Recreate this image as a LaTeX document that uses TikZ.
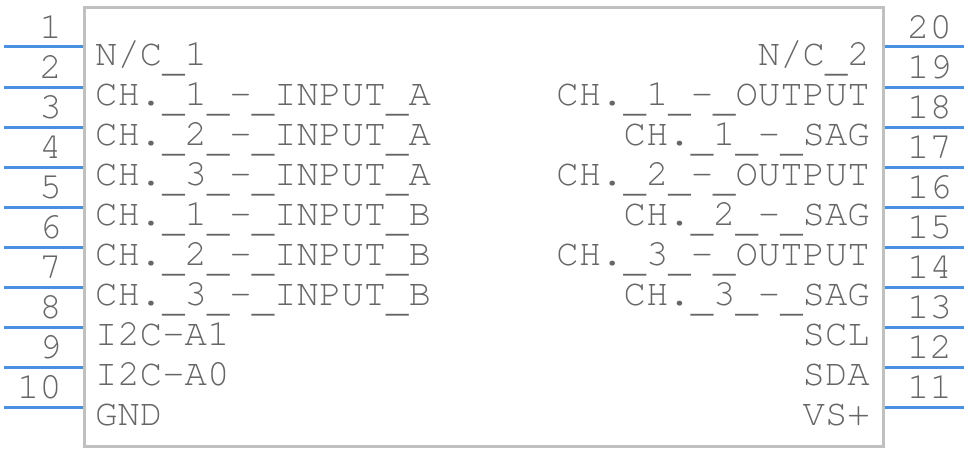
\documentclass[tikz,border=0pt]{standalone}
\usepackage{fontspec}
\newfontfamily\pinfont{texgyrecursor-regular.otf}
\usepackage{tikz}
\usetikzlibrary{calc}
\definecolor{pinblue}{RGB}{74,144,226}
\definecolor{boxgray}{RGB}{192,192,192}
\definecolor{txtgray}{RGB}{102,102,102}
\newcommand{\pinus}{\smash{\raisebox{-6pt}{\_}}}
\tikzstyle{pin} = [draw=pinblue, line width=3pt]
\tikzstyle{chip} = [draw=boxgray, line width=3pt, rectangle, minimum width=799pt, minimum height=438pt, inner sep=0pt]
\tikzstyle{txt} = [text=txtgray, font=\pinfont\fontsize{37.3}{37.3}\selectfont, inner sep=0pt]
\tikzstyle{lbll} = [txt, anchor=base west]
\tikzstyle{lblr} = [txt, anchor=base east]
\tikzstyle{numl} = [txt, anchor=base east]
\tikzstyle{numr} = [txt, anchor=base west]

\begin{document}
\begin{tikzpicture}[x=1pt, y=-1pt]
        \useasboundingbox (0,0) rectangle (968,452);
        \node[chip] (chip) at (483.5,227) {};
        % left side pins
        \coordinate (p1) at (4,47);
        \coordinate (p2) at (4,87);
        \coordinate (p3) at (4,127);
        \coordinate (p4) at (4,167);
        \coordinate (p5) at (4,207);
        \coordinate (p6) at (4,247);
        \coordinate (p7) at (4,287);
        \coordinate (p8) at (4,327);
        \coordinate (p9) at (4,367);
        \coordinate (p10) at (4,407);
        % right side pins
        \coordinate (p20) at (964,47);
        \coordinate (p19) at (964,87);
        \coordinate (p18) at (964,127);
        \coordinate (p17) at (964,167);
        \coordinate (p16) at (964,207);
        \coordinate (p15) at (964,247);
        \coordinate (p14) at (964,287);
        \coordinate (p13) at (964,327);
        \coordinate (p12) at (964,367);
        \coordinate (p11) at (964,407);
        \path[pin] (p1) -- (p1 -| chip.west);
        \path[pin] (p2) -- (p2 -| chip.west);
        \path[pin] (p3) -- (p3 -| chip.west);
        \path[pin] (p4) -- (p4 -| chip.west);
        \path[pin] (p5) -- (p5 -| chip.west);
        \path[pin] (p6) -- (p6 -| chip.west);
        \path[pin] (p7) -- (p7 -| chip.west);
        \path[pin] (p8) -- (p8 -| chip.west);
        \path[pin] (p9) -- (p9 -| chip.west);
        \path[pin] (p10) -- (p10 -| chip.west);
        \path[pin] (p20) -- (p20 -| chip.east);
        \path[pin] (p19) -- (p19 -| chip.east);
        \path[pin] (p18) -- (p18 -| chip.east);
        \path[pin] (p17) -- (p17 -| chip.east);
        \path[pin] (p16) -- (p16 -| chip.east);
        \path[pin] (p15) -- (p15 -| chip.east);
        \path[pin] (p14) -- (p14 -| chip.east);
        \path[pin] (p13) -- (p13 -| chip.east);
        \path[pin] (p12) -- (p12 -| chip.east);
        \path[pin] (p11) -- (p11 -| chip.east);
        % pin numbers
        \node[numl] (n1) at ($(p1)+(58,-9)$) {1};
        \node[numl] (n2) at ($(p2)+(58,-9)$) {2};
        \node[numl] (n3) at ($(p3)+(58,-9)$) {3};
        \node[numl] (n4) at ($(p4)+(58,-9)$) {4};
        \node[numl] (n5) at ($(p5)+(58,-9)$) {5};
        \node[numl] (n6) at ($(p6)+(58,-9)$) {6};
        \node[numl] (n7) at ($(p7)+(58,-9)$) {7};
        \node[numl] (n8) at ($(p8)+(58,-9)$) {8};
        \node[numl] (n9) at ($(p9)+(58,-9)$) {9};
        \node[numl] (n10) at ($(p10)+(58,-9)$) {10};
        \node[numr] (n20) at ($(p20)+(-57,-9)$) {20};
        \node[numr] (n19) at ($(p19)+(-57,-9)$) {19};
        \node[numr] (n18) at ($(p18)+(-57,-9)$) {18};
        \node[numr] (n17) at ($(p17)+(-57,-9)$) {17};
        \node[numr] (n16) at ($(p16)+(-57,-9)$) {16};
        \node[numr] (n15) at ($(p15)+(-57,-9)$) {15};
        \node[numr] (n14) at ($(p14)+(-57,-9)$) {14};
        \node[numr] (n13) at ($(p13)+(-57,-9)$) {13};
        \node[numr] (n12) at ($(p12)+(-57,-9)$) {12};
        \node[numr] (n11) at ($(p11)+(-57,-9)$) {11};
        % pin names
        \node[lbll] (nc1) at ($(p1)+(91,18)$) {N/C\pinus 1};
        \node[lbll] (in1a) at ($(p2)+(91,18)$) {CH.\pinus 1\pinus -\pinus INPUT\pinus A};
        \node[lbll] (in2a) at ($(p3)+(91,18)$) {CH.\pinus 2\pinus -\pinus INPUT\pinus A};
        \node[lbll] (in3a) at ($(p4)+(91,18)$) {CH.\pinus 3\pinus -\pinus INPUT\pinus A};
        \node[lbll] (in1b) at ($(p5)+(91,18)$) {CH.\pinus 1\pinus -\pinus INPUT\pinus B};
        \node[lbll] (in2b) at ($(p6)+(91,18)$) {CH.\pinus 2\pinus -\pinus INPUT\pinus B};
        \node[lbll] (in3b) at ($(p7)+(91,18)$) {CH.\pinus 3\pinus -\pinus INPUT\pinus B};
        \node[lbll] (a1) at ($(p8)+(91,18)$) {I2C-A1};
        \node[lbll] (a0) at ($(p9)+(91,18)$) {I2C-A0};
        \node[lbll] (gnd) at ($(p10)+(91,18)$) {GND};
        \node[lblr] (nc2) at ($(p20)+(-94,18)$) {N/C\pinus 2};
        \node[lblr] (out1) at ($(p19)+(-94,18)$) {CH.\pinus 1\pinus -\pinus OUTPUT};
        \node[lblr] (sag1) at ($(p18)+(-94,18)$) {CH.\pinus 1\pinus -\pinus SAG};
        \node[lblr] (out2) at ($(p17)+(-94,18)$) {CH.\pinus 2\pinus -\pinus OUTPUT};
        \node[lblr] (sag2) at ($(p16)+(-94,18)$) {CH.\pinus 2\pinus -\pinus SAG};
        \node[lblr] (out3) at ($(p15)+(-94,18)$) {CH.\pinus 3\pinus -\pinus OUTPUT};
        \node[lblr] (sag3) at ($(p14)+(-94,18)$) {CH.\pinus 3\pinus -\pinus SAG};
        \node[lblr] (scl) at ($(p13)+(-94,18)$) {SCL};
        \node[lblr] (sda) at ($(p12)+(-94,18)$) {SDA};
        \node[lblr] (vs) at ($(p11)+(-94,18)$) {VS+};
    \end{tikzpicture}
\end{document}
